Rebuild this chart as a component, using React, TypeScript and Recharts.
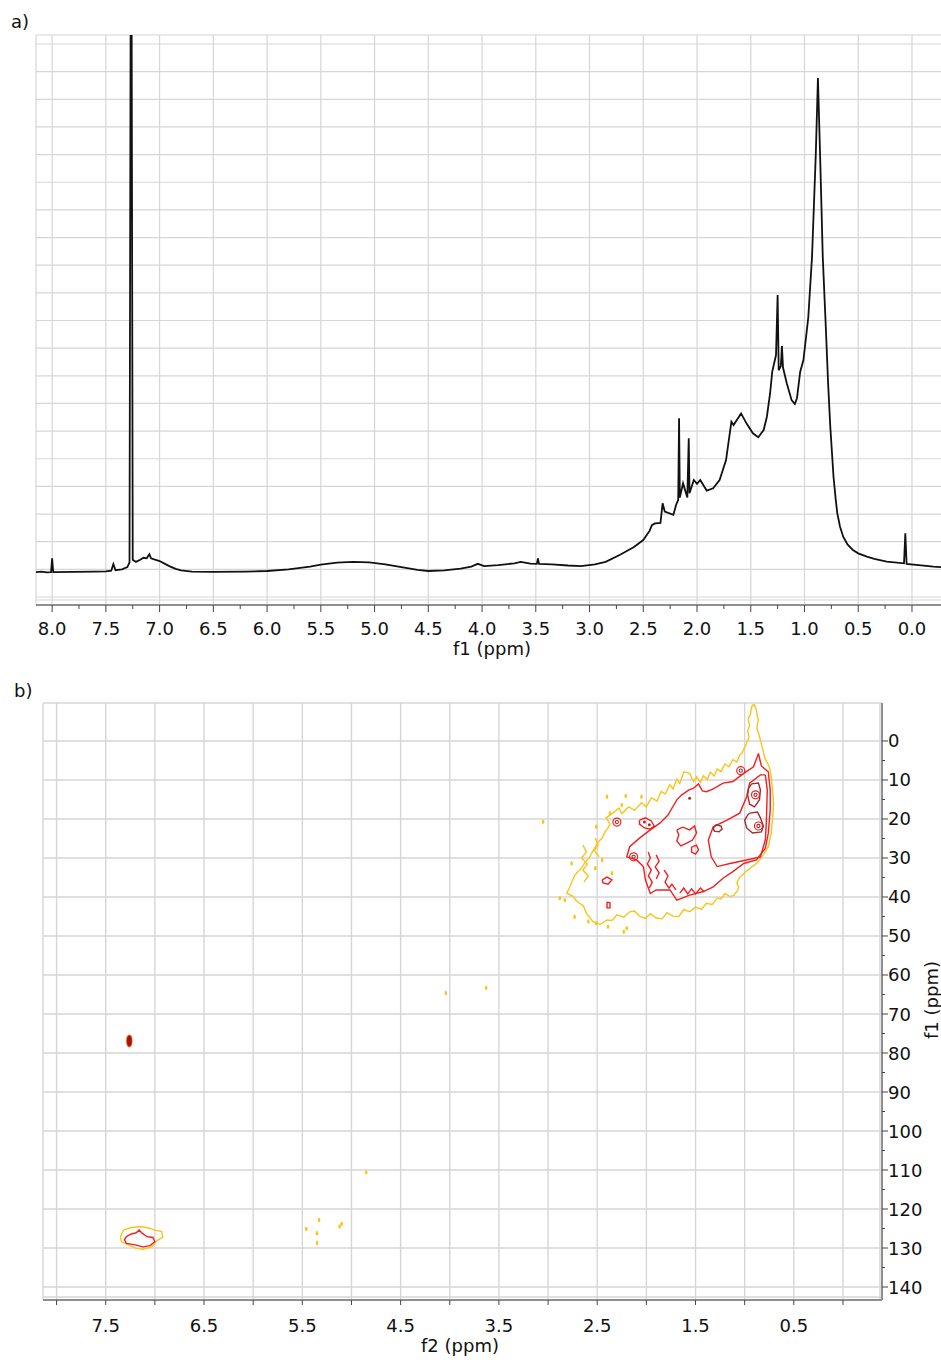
import { LineChart, ComposedChart, Line, Scatter, XAxis, YAxis, CartesianGrid, ReferenceLine } from 'recharts';

const FONT = '"DejaVu Sans", Verdana, sans-serif';
const GRID = '#d6d6d6';
const AXIS = '#8f8f8f';
const YEL = '#f8c51c';
const RED = '#ef2020';
const DARK = '#a32b2b';

// ---- a) 1H spectrum, ppm vs intensity (grid units)
const specPpm = [
  8.15, 8.1, 8.05, 8.01, 8.0, 7.99, 7.8, 7.6, 7.5, 7.45, 7.43, 7.41, 7.35, 7.3, 7.28, 7.265, 7.25, 7.22,
  7.18, 7.15, 7.12, 7.095, 7.08, 7.05, 7.0, 6.95, 6.9, 6.85, 6.8, 6.7, 6.5, 6.2, 6.0, 5.8, 5.6, 5.5,
  5.35, 5.2, 5.05, 4.9, 4.75, 4.6, 4.5, 4.35, 4.2, 4.1, 4.04, 3.98, 3.85, 3.7, 3.64, 3.55, 3.49, 3.48,
  3.47, 3.35, 3.2, 3.08, 2.95, 2.85, 2.72, 2.59, 2.5, 2.44, 2.42, 2.39, 2.34, 2.32, 2.3, 2.22, 2.195,
  2.175, 2.167, 2.16, 2.13, 2.09, 2.077, 2.07, 2.03, 2.0, 1.97, 1.91, 1.85, 1.79, 1.73, 1.68, 1.66,
  1.59, 1.54, 1.48, 1.43, 1.38, 1.35, 1.32, 1.3, 1.265, 1.25, 1.24, 1.22, 1.21, 1.2, 1.165, 1.12,
  1.09, 1.07, 1.04, 1.01, 0.965, 0.93, 0.895, 0.875, 0.855, 0.83, 0.8, 0.78, 0.76, 0.73, 0.71, 0.695,
  0.67, 0.64, 0.6, 0.55, 0.5, 0.42, 0.35, 0.235, 0.074, 0.062, 0.05, -0.2, -0.27,
];
const specInt = [
  0.9, 0.92, 0.89, 0.9, 1.4, 0.9, 0.91, 0.92, 0.93, 0.95, 1.19, 0.97, 1.0, 1.08, 1.25, 30, 1.35, 1.27,
  1.35, 1.42, 1.4, 1.55, 1.4, 1.36, 1.3, 1.2, 1.1, 1.02, 0.96, 0.92, 0.91, 0.92, 0.94, 1.0, 1.1, 1.17,
  1.24, 1.27, 1.25, 1.18, 1.08, 0.98, 0.94, 0.96, 1.03, 1.1, 1.2, 1.12, 1.15, 1.22, 1.27, 1.21, 1.2, 1.4,
  1.2, 1.18, 1.14, 1.12, 1.18, 1.27, 1.52, 1.8, 2.06, 2.4, 2.6, 2.66, 2.68, 3.39, 3.09, 2.97, 3.33,
  3.51, 6.46, 3.6, 4.11, 3.6, 5.74, 3.75, 4.23, 4.09, 4.23, 3.85, 3.93, 4.23, 4.95, 6.34, 6.22,
  6.64, 6.28, 5.92, 5.78, 6.04, 6.52, 7.37, 8.15, 8.75, 10.92, 8.2, 8.35, 9.08, 8.3, 7.73, 7.12,
  6.98, 7.19, 8.15, 8.57, 10.1, 12.3, 16.0, 18.77, 16.0, 12.3, 9.6, 7.7, 6.16, 4.35, 3.55, 3.03,
  2.55, 2.18, 1.9, 1.7, 1.58, 1.46, 1.38, 1.28, 1.22, 2.3, 1.2, 1.1, 1.08,
];
const spectrum = specPpm.map((ppm, k) => ({ ppm, i: specInt[k] }));

const topTicks = [8, 7.75, 7.5, 7.25, 7, 6.75, 6.5, 6.25, 6, 5.75, 5.5, 5.25, 5, 4.75, 4.5, 4.25, 4, 3.75, 3.5, 3.25, 3, 2.75, 2.5, 2.25, 2, 1.75, 1.5, 1.25, 1, 0.75, 0.5, 0.25, 0];
const topGridX = [8, 7.5, 7, 6.5, 6, 5.5, 5, 4.5, 4, 3.5, 3, 2.5, 2, 1.5, 1, 0.5, 0];
const topGridY = [0, 1, 2, 3, 4, 5, 6, 7, 8, 9, 10, 11, 12, 13, 14, 15, 16, 17, 18, 19, 20];

// ---- b) HSQC, f2 (1H ppm) vs f1 (13C ppm)
const bTicksX = [8, 7.5, 7, 6.5, 6, 5.5, 5, 4.5, 4, 3.5, 3, 2.5, 2, 1.5, 1, 0.5, 0];
const bLabelsX = [7.5, 6.5, 5.5, 4.5, 3.5, 2.5, 1.5, 0.5];
const bTicksY = [0, 5, 10, 15, 20, 25, 30, 35, 40, 45, 50, 55, 60, 65, 70, 75, 80, 85, 90, 95, 100, 105, 110, 115, 120, 125, 130, 135, 140];
const bGridY = [0, 10, 20, 30, 40, 50, 60, 70, 80, 90, 100, 110, 120, 130, 140];

type P = [number, number];
const yellowOuter: P[] = [
  [0.905, -9.5], [0.88, -7.9], [0.87, -6.2], [0.86, -5.4], [0.875, -3.8], [0.87, -2.8], [0.85, -1.2], [0.84, -0.3],
  [0.815, 2.3], [0.795, 4.4], [0.75, 6.6], [0.74, 7.8], [0.73, 9.0], [0.72, 11.7], [0.71, 14.6], [0.705, 16.2],
  [0.71, 17.7], [0.72, 20.8], [0.73, 23.7], [0.76, 27.1], [0.81, 29.2], [0.875, 31.3], [0.97, 33.1], [1.05, 34.9],
  [1.08, 36.4], [1.06, 37.5], [1.07, 38.2], [1.11, 39.6], [1.15, 39.9], [1.2, 39.1], [1.24, 40.5], [1.28, 40.3],
  [1.33, 41.9], [1.39, 41.6], [1.44, 43.2], [1.5, 42.6], [1.56, 43.8], [1.62, 43.2], [1.67, 45.0], [1.73, 44.9],
  [1.79, 44.0], [1.84, 45.6], [1.9, 45.4], [1.96, 44.3], [2.01, 45.5], [2.07, 44.9], [2.12, 43.6], [2.17, 43.8],
  [2.23, 45.2], [2.3, 44.6], [2.35, 46.0], [2.4, 45.9], [2.47, 47.0], [2.54, 46.4], [2.61, 44.2], [2.64, 42.3],
  [2.68, 41.6], [2.72, 40.8], [2.74, 39.9], [2.81, 39.0], [2.78, 37.5], [2.76, 36.2], [2.73, 34.5], [2.7, 33.6],
  [2.66, 32.6], [2.62, 31.0], [2.58, 29.9], [2.55, 28.5], [2.52, 27.2], [2.49, 25.9], [2.45, 24.9], [2.42, 23.3],
  [2.39, 22.3], [2.37, 21.3], [2.41, 19.7], [2.34, 18.5], [2.28, 17.2], [2.25, 18.6], [2.18, 16.9], [2.12, 17.8],
  [2.05, 15.8], [2.0, 16.9], [1.95, 14.6], [1.89, 15.4], [1.85, 12.9], [1.81, 13.6], [1.76, 11.2], [1.73, 12.3],
  [1.69, 9.8], [1.66, 10.9], [1.62, 7.9], [1.56, 8.3], [1.52, 10.4], [1.49, 9.2], [1.45, 10.6], [1.42, 8.9],
  [1.38, 9.9], [1.35, 8.0], [1.31, 9.0], [1.28, 7.2], [1.24, 7.8], [1.2, 5.9], [1.16, 6.6], [1.12, 4.8],
  [1.08, 5.4], [1.05, 3.6], [1.03, 3.2], [0.98, 0.6], [0.955, -1.0], [0.97, -2.6], [0.95, -4.0], [0.965, -5.6],
  [0.94, -7.0], [0.93, -8.8], [0.905, -9.5],
];
const yellowSquiggle1: P[] = [[2.645, 26.7], [2.61, 28.5], [2.66, 30.0], [2.6, 31.5], [2.645, 33.1], [2.59, 34.6], [2.635, 36.2]];
const yellowSquiggle2: P[] = [[2.52, 24.9], [2.49, 26.7], [2.53, 28.2], [2.48, 29.7]];
const yellowAromatic: P[] = [
  [7.32, 125.4], [7.25, 124.8], [7.15, 124.5], [7.07, 124.8], [7.0, 125.4], [6.93, 125.8], [6.92, 127.3],
  [6.98, 128.1], [7.03, 129.7], [7.12, 130.3], [7.19, 130.1], [7.27, 129.2], [7.34, 128.4], [7.35, 127.1], [7.32, 125.4],
];

const redOuter: P[] = [
  [0.86, 3.2], [0.83, 6.4], [0.76, 7.9], [0.74, 12.6], [0.74, 17.7], [0.76, 23.7], [0.79, 27.5], [0.88, 30.5],
  [1.01, 31.4], [1.12, 33.5], [1.22, 35.2], [1.32, 37.4], [1.42, 38.6], [1.56, 39.5], [1.69, 40.8], [1.76, 38.2],
  [1.9, 38.2], [1.96, 39.1], [2.01, 35.6], [2.03, 32.2], [2.1, 30.5], [2.2, 29.7], [2.17, 27.1], [2.07, 24.9],
  [1.96, 22.8], [1.86, 21.0], [1.78, 19.0], [1.73, 16.8], [1.69, 15.1], [1.64, 13.8], [1.57, 12.6], [1.52, 12.1],
  [1.47, 11.0], [1.43, 12.8], [1.39, 13.0], [1.33, 12.4], [1.28, 11.7], [1.22, 10.8], [1.12, 10.4], [1.01, 8.3],
  [0.91, 6.6], [0.86, 3.2],
];
const redInner: P[] = [
  [0.79, 8.7], [0.77, 12.6], [0.78, 21.1], [0.79, 25.4], [0.84, 29.7], [0.98, 30.5], [1.15, 31.4], [1.28, 32.2],
  [1.34, 29.7], [1.37, 25.4], [1.32, 22.0], [1.18, 20.3], [1.05, 18.5], [0.98, 14.3], [0.95, 10.8], [0.84, 8.7], [0.79, 8.7],
];
const redIsland1: P[] = [[1.69, 22.8], [1.63, 22.1], [1.56, 22.8], [1.51, 21.8], [1.49, 23.6], [1.53, 25.4], [1.59, 26.2], [1.65, 26.9], [1.69, 25.6], [1.67, 24.1], [1.69, 22.8]];
const redIsland2: P[] = [[1.54, 27.2], [1.49, 26.7], [1.47, 27.9], [1.5, 29.0], [1.54, 28.5], [1.54, 27.2]];
const redIsland3: P[] = [[2.45, 35.6], [2.4, 34.9], [2.35, 35.6], [2.39, 36.7], [2.44, 36.4], [2.45, 35.6]];
const redIsland4: P[] = [[2.4, 41.3], [2.37, 41.5], [2.37, 42.8], [2.4, 42.8], [2.4, 41.3]];
const redOval: P[] = [[2.07, 20.3], [2.01, 19.7], [1.95, 20.5], [1.92, 21.8], [1.96, 22.6], [2.02, 22.3], [2.07, 21.3], [2.07, 20.3]];
const redSq1: P[] = [[1.98, 28.5], [1.96, 30.0], [1.99, 31.5], [1.95, 33.1], [1.98, 34.6], [1.94, 36.2], [1.97, 37.7]];
const redSq2: P[] = [[1.9, 29.2], [1.87, 30.8], [1.91, 32.3], [1.87, 33.8], [1.9, 35.4]];
const redSq3: P[] = [[1.82, 33.1], [1.78, 34.6], [1.81, 36.2], [1.77, 37.7], [1.74, 36.7], [1.7, 38.2]];
const redSq4: P[] = [[1.66, 39.0], [1.62, 37.7], [1.58, 39.2], [1.54, 37.9], [1.5, 39.2], [1.45, 37.7], [1.41, 38.7]];
const redAromatic: P[] = [
  [7.29, 127.1], [7.24, 126.4], [7.19, 126.1], [7.16, 125.4], [7.13, 126.2], [7.08, 127.1], [7.02, 127.3],
  [7.0, 128.4], [7.05, 129.4], [7.12, 129.7], [7.2, 129.2], [7.29, 128.8], [7.31, 127.9], [7.29, 127.1],
];

const darkBlob1: P[] = [[0.93, 11.0], [0.86, 10.8], [0.84, 12.6], [0.85, 15.1], [0.9, 16.9], [0.95, 16.2], [0.97, 13.8], [0.96, 12.1], [0.93, 11.0]];
const darkBlob2: P[] = [[0.95, 18.5], [0.87, 18.2], [0.84, 19.7], [0.81, 21.8], [0.83, 23.3], [0.92, 23.6], [0.98, 22.3], [1.0, 20.3], [0.97, 19.0], [0.95, 18.5]];
const darkOval: P[] = [[1.32, 22.3], [1.29, 21.5], [1.24, 21.8], [1.23, 22.6], [1.26, 23.3], [1.31, 23.1], [1.32, 22.3]];

const contours = [
  { pts: yellowOuter, color: YEL }, { pts: yellowSquiggle1, color: YEL }, { pts: yellowSquiggle2, color: YEL },
  { pts: yellowAromatic, color: YEL },
  { pts: redOuter, color: RED }, { pts: redInner, color: RED }, { pts: redIsland1, color: RED },
  { pts: redIsland2, color: RED }, { pts: redIsland3, color: RED }, { pts: redIsland4, color: RED },
  { pts: redOval, color: RED }, { pts: redSq1, color: RED }, { pts: redSq2, color: RED }, { pts: redSq3, color: RED },
  { pts: redSq4, color: RED }, { pts: redAromatic, color: RED },
  { pts: darkBlob1, color: DARK }, { pts: darkBlob2, color: DARK }, { pts: darkOval, color: DARK },
];

const yellowDots: P[] = [
  [2.4, 14.3], [2.21, 14.1], [2.05, 14.3], [2.25, 16.4], [2.37, 18.5], [2.51, 22.0], [2.76, 31.4], [2.88, 40.3],
  [2.73, 45.1], [2.59, 46.3], [2.2, 48.0], [2.39, 47.6], [2.35, 33.9], [2.45, 30.5], [2.52, 32.6], [3.05, 20.7],
  [2.83, 40.8], [2.23, 48.9], [2.51, 46.7], [4.04, 64.6], [3.63, 63.3], [4.85, 110.6], [5.33, 122.8], [5.46, 125.1],
  [5.35, 126.2], [5.12, 124.5], [5.1, 123.8], [5.35, 128.7],
];
const redRings: P[] = [[2.3, 20.8], [1.04, 7.6], [2.13, 29.7], [0.89, 13.8], [0.86, 21.8]];
const darkDots: P[] = [[2.02, 20.8], [1.97, 21.5], [1.56, 14.7]];
const aromaticSpot: P[] = [[7.26, 76.9]];

const toXY = (pts: P[]) => pts.map(([f2, f1]) => ({ f2, f1 }));

function TopTick({ x, y, payload }: any) {
  const v = payload.value as number;
  const major = Math.round(v * 4) % 2 === 0;
  return (
    <g>
      <line x1={x} x2={x} y1={y} y2={y + (major ? 7 : 4)} stroke="#444" strokeWidth={1} />
      {major && (
        <text x={x} y={y + 30} textAnchor="middle" fontFamily={FONT} fontSize={18} fill="#111">
          {v.toFixed(1)}
        </text>
      )}
    </g>
  );
}

function BottomTick({ x, y, payload }: any) {
  const v = payload.value as number;
  const show = bLabelsX.includes(v);
  return (
    <g>
      <line x1={x} x2={x} y1={y} y2={y + 5} stroke="#444" strokeWidth={1} />
      {show && (
        <text x={x} y={y + 32} textAnchor="middle" fontFamily={FONT} fontSize={18} fill="#111">
          {v.toFixed(1)}
        </text>
      )}
    </g>
  );
}

function RightTick({ x, y, payload }: any) {
  const v = payload.value as number;
  const major = v % 10 === 0;
  return (
    <g>
      <line x1={x} x2={x + (major ? 6 : 3)} y1={y} y2={y} stroke="#444" strokeWidth={1} />
      {major && (
        <text x={x + 6} y={y + 6.5} textAnchor="start" fontFamily={FONT} fontSize={18} fill="#111">
          {v}
        </text>
      )}
    </g>
  );
}

const dotShape = (color: string, rx: number, ry: number) => (p: any) => (
  <ellipse cx={p.cx} cy={p.cy} rx={rx} ry={ry} fill={color} />
);
const ringShape = (p: any) => (
  <g>
    <circle cx={p.cx} cy={p.cy} r={4} fill="none" stroke={RED} strokeWidth={1.2} />
    <circle cx={p.cx} cy={p.cy} r={1.6} fill="none" stroke={DARK} strokeWidth={1.1} />
  </g>
);
const spotShape = (p: any) => (
  <g>
    <ellipse cx={p.cx} cy={p.cy} rx={3.2} ry={6.5} fill="#e85a10" />
    <ellipse cx={p.cx} cy={p.cy} rx={2.3} ry={5.2} fill="#a81000" />
  </g>
);

export default function App() {
  return (
    <div style={{ position: 'absolute', left: 0, top: 0, width: 941, height: 1360, background: '#fff', overflow: 'hidden' }}>
      <div style={{ position: 'absolute', left: 0, top: 0 }}>
        <LineChart width={941} height={660} data={spectrum} margin={{ top: 35, right: 0, left: 36, bottom: 15 }}>
          <CartesianGrid stroke={GRID} strokeWidth={1.2} verticalValues={topGridX} horizontalValues={topGridY} />
          <XAxis
            dataKey="ppm"
            type="number"
            domain={[-0.27, 8.15]}
            reversed
            allowDataOverflow
            ticks={topTicks}
            interval={0}
            height={40}
            tickSize={0}
            tickMargin={0}
            tick={<TopTick />}
            axisLine={{ stroke: AXIS, strokeWidth: 2 }}
            tickLine={false}
          />
          <YAxis hide type="number" domain={[-0.289, 20.325]} allowDataOverflow ticks={topGridY} />
          <ReferenceLine y={20.325} stroke={GRID} strokeWidth={1.2} ifOverflow="visible" />
          <ReferenceLine y={-0.108} stroke={GRID} strokeWidth={1.2} ifOverflow="visible" />
          <ReferenceLine x={8.15} stroke={GRID} strokeWidth={1.2} ifOverflow="visible" />
          <Line dataKey="i" type="linear" stroke="#111" strokeWidth={1.8} dot={false} isAnimationActive={false} />
        </LineChart>
      </div>

      <div style={{ position: 'absolute', left: 0, top: 660 }}>
        <ComposedChart width={941} height={700} margin={{ top: 43, right: 9, left: 43, bottom: 20 }}>
          <CartesianGrid stroke={GRID} strokeWidth={1.4} verticalValues={bTicksX} horizontalValues={bGridY} />
          <XAxis
            dataKey="f2"
            type="number"
            domain={[-0.397, 8.138]}
            reversed
            allowDataOverflow
            ticks={bTicksX}
            interval={0}
            height={40}
            tickSize={0}
            tickMargin={0}
            tick={<BottomTick />}
            axisLine={{ stroke: AXIS, strokeWidth: 2 }}
            tickLine={false}
          />
          <YAxis
            dataKey="f1"
            type="number"
            orientation="right"
            reversed
            domain={[-9.74, 143.33]}
            allowDataOverflow
            ticks={bTicksY}
            interval={0}
            width={50}
            tickSize={0}
            tickMargin={0}
            tick={<RightTick />}
            axisLine={{ stroke: AXIS, strokeWidth: 2 }}
            tickLine={false}
          />
          <ReferenceLine y={-9.74} stroke={GRID} strokeWidth={1.4} ifOverflow="visible" />
          <ReferenceLine y={142.56} stroke={GRID} strokeWidth={1.4} ifOverflow="visible" />
          <ReferenceLine x={8.138} stroke={GRID} strokeWidth={1.4} ifOverflow="visible" />
          <ReferenceLine x={-0.376} stroke={GRID} strokeWidth={1.4} ifOverflow="visible" />
          {contours.map((c, k) => (
            <Line
              key={k}
              data={toXY(c.pts)}
              dataKey="f1"
              type="linear"
              stroke={c.color}
              strokeWidth={1.4}
              dot={false}
              activeDot={false}
              isAnimationActive={false}
            />
          ))}
          <Scatter data={toXY(yellowDots)} dataKey="f1" shape={dotShape(YEL, 1.3, 2.2)} isAnimationActive={false} />
          <Scatter data={toXY(redRings)} dataKey="f1" shape={ringShape} isAnimationActive={false} />
          <Scatter data={toXY(darkDots)} dataKey="f1" shape={dotShape(DARK, 1.5, 1.5)} isAnimationActive={false} />
          <Scatter data={toXY(aromaticSpot)} dataKey="f1" shape={spotShape} isAnimationActive={false} />
        </ComposedChart>
      </div>

      <svg width={941} height={1360} style={{ position: 'absolute', left: 0, top: 0, pointerEvents: 'none' }}>
        <text x={11} y={28} fontFamily={FONT} fontSize={18} fill="#111">a)</text>
        <text x={14} y={697} fontFamily={FONT} fontSize={18} fill="#111">b)</text>
        <text x={492} y={655} textAnchor="middle" fontFamily={FONT} fontSize={18} fill="#111">f1 (ppm)</text>
        <text x={460} y={1352} textAnchor="middle" fontFamily={FONT} fontSize={18} fill="#111">f2 (ppm)</text>
        <text x={938} y={1000} textAnchor="middle" fontFamily={FONT} fontSize={18} fill="#111" transform="rotate(-90 938 1000)">f1 (ppm)</text>
      </svg>
    </div>
  );
}
